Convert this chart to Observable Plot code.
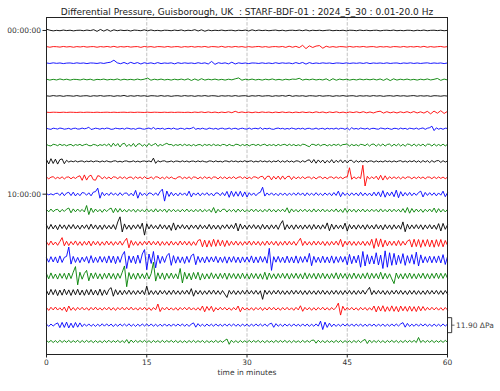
<!DOCTYPE html>
<html><head><meta charset="utf-8">
<script src="https://cdn.jsdelivr.net/npm/d3@7"></script>
<script src="https://cdn.jsdelivr.net/npm/@observablehq/plot@0.6"></script>
<style>body{margin:0;background:#fff} svg{font-family:"DejaVu Sans",sans-serif}</style>
</head><body><div id="chart"></div>
<script>
const titleText = "Differential Pressure, Guisborough, UK  : STARF-BDF-01 : 2024_5_30 : 0.01-20.0 Hz";
const xLabel = "time in minutes";
const minuteTicks = [0, 15, 30, 45, 60];
const gridMinutes = [15, 30, 45];
const hourLineIndex = [0, 10];
const hourLabels = ["00:00:00", "10:00:00"];
const traceColors = ["#000000", "#ff0000", "#0000ff", "#008000"];
const scaleBarPa = 11.90;
const scaleBarLine = 18;
const scaleBarLabel = "11.90 ΔPa";

// deviations in Pa, one row per hour (quiet hours every 30 s, busier hours every 20 s)
const L0 = [1.0,0.2,-0.3,0.1,-0.2,0.3,-0.1,0.2,-0.3,0.1,0.2,-0.2,0.3,-0.1,0.6,-0.7,0.8,-0.5,0.7,-0.6,0.5,-0.2,0.3,-0.1,0.2,-0.4,0.3,0.1,-0.2,0.5,-0.3,0.4,-0.2,0.1,-0.3,0.2,0.1,-0.2,0.3,-0.1,0.4,-0.3,0.2,-0.1,0.6,-0.4,0.5,-0.6,0.3,-0.2,0.2,-0.1,0.3,-0.2,0.1,0.2,-0.3,0.2,-0.1,0.3,-0.4,0.5,-0.2,0.3,-0.1,0.2,-0.2,0.1,0.3,-0.2,0.2,-0.3,0.1,0.2,-0.1,0.3,-0.2,0.4,-0.3,0.2,-0.1,0.2,-0.2,0.1,0.3,-0.2,0.1,-0.1,0.2,-0.3,0.2,0.1,-0.2,0.3,-0.1,0.2,-0.2,0.1,0.2,-0.3,0.1,0.2,-0.1,0.3,-0.2,0.1,-0.2,0.2,0.1,-0.3,0.2,-0.1,0.3,-0.2,0.1,0.2,-0.1,0.2,-0.2,0.1];
const L1 = [0.2,-0.3,0.2,0.1,-0.2,0.3,-0.1,0.2,-0.3,0.2,-0.1,0.3,-0.2,0.1,0.2,-0.3,0.2,-0.1,0.3,-0.2,0.4,-0.3,0.2,-0.1,0.3,-0.2,0.1,0.2,-0.4,0.3,-0.1,0.2,-0.3,0.2,0.1,-0.2,0.3,-0.2,0.1,0.2,-0.3,0.2,-0.1,0.3,-0.2,0.2,-0.1,0.3,-0.3,0.2,0.1,-0.2,0.4,-0.3,0.2,-0.2,0.3,-0.1,0.2,-0.3,0.2,-0.2,0.1,0.3,-0.2,0.2,-0.3,0.1,0.2,-0.1,0.3,-0.4,0.5,-0.3,0.4,-0.6,1.2,-1.4,0.8,-0.5,0.6,1.0,-1.1,0.5,-0.3,0.2,-0.3,0.2,0.1,-0.2,0.3,-0.2,0.2,-0.1,0.3,-0.2,0.1,0.2,-0.3,0.2,-0.1,0.2,-0.3,0.2,0.1,-0.2,0.3,-0.2,0.2,-0.1,0.3,-0.2,0.4,-0.3,0.2,-0.2,0.1,0.3,-0.2,0.2];
const L2 = [0.2,-0.2,0.3,-0.1,0.2,-0.3,0.1,0.2,-0.2,0.3,-0.1,0.2,-0.3,0.2,0.1,-0.2,0.3,-0.2,0.4,0.8,2.4,0.3,-0.4,0.6,-0.5,0.7,-0.3,0.5,-0.6,0.4,-0.2,0.3,-0.4,0.5,-0.3,0.2,-0.1,0.3,-0.5,0.4,-0.2,0.3,-0.1,0.2,-0.3,0.4,-0.2,0.3,-0.6,1.4,-0.9,0.4,-0.2,0.3,-0.5,0.8,-0.6,0.3,-0.2,0.2,-0.3,0.2,0.1,-0.2,0.3,-0.2,0.2,-0.3,0.4,-0.2,0.3,-0.1,0.2,-0.4,0.5,-0.3,0.6,-0.7,0.5,-0.3,0.2,-0.2,0.3,-0.1,0.2,-0.3,0.2,0.1,-0.2,0.3,-0.2,0.2,-0.1,0.3,-0.2,0.4,-0.3,0.2,-0.1,0.2,-0.2,0.3,-0.2,0.1,0.2,-0.3,0.2,-0.1,0.3,-0.2,0.2,-0.2,0.1,0.3,-0.2,0.2,-0.1,0.2,-0.3,0.2];
const L3 = [0.3,-0.4,0.2,-0.3,0.5,-0.2,0.3,-0.4,0.2,0.1,-0.3,0.4,-0.2,0.3,-0.5,0.2,-0.1,0.4,-0.3,0.2,-0.2,0.5,-0.4,0.3,-0.2,0.2,-0.3,0.4,-0.2,0.3,1.2,-0.5,0.3,-0.2,0.4,-0.3,0.2,-0.4,0.3,-0.2,0.4,-0.3,0.6,-0.7,0.5,-0.6,0.7,-0.4,0.3,-0.2,0.4,-0.3,0.2,-0.4,0.3,-0.2,0.6,1.3,-0.5,0.3,-0.2,0.4,-0.3,0.2,-0.4,0.3,-0.2,0.5,-0.3,0.2,-0.4,0.3,-0.2,0.4,0.2,1.0,-0.4,0.3,-0.2,0.4,-0.3,0.2,-0.3,0.6,-0.8,0.7,-0.5,0.4,-0.2,0.3,-0.4,0.2,-0.3,0.4,-0.2,0.3,-0.2,0.4,-0.3,0.5,-0.6,0.7,-0.8,0.6,-0.4,0.3,-0.2,0.4,-0.3,0.2,-0.4,0.3,-0.2,0.5,-0.3,0.2,0.9,-0.6,0.4,-0.3];
const L4 = [0.1,-0.2,0.3,-0.1,0.2,-0.3,0.2,0.1,-0.2,0.3,-0.2,0.1,0.2,-0.3,0.2,-0.1,0.3,-0.2,0.1,0.2,-0.3,0.2,-0.1,0.4,-0.3,0.2,-0.2,0.3,-0.1,0.2,-0.3,0.2,0.1,-0.2,0.3,-0.2,0.2,-0.3,0.1,0.2,-0.2,0.3,-0.1,0.2,-0.3,0.2,-0.1,0.3,-0.2,0.2,0.1,-0.3,0.2,-0.1,0.2,-0.2,0.3,-0.2,0.1,0.2,-0.3,0.2,-0.1,0.3,-0.2,0.1,0.2,-0.3,0.2,-0.1,0.3,-0.2,0.5,-0.3,0.2,-0.1,0.2,-0.3,0.2,0.1,-0.2,0.3,-0.2,0.1,0.2,-0.3,0.2,-0.1,0.3,-0.2,0.1,0.2,-0.3,0.2,-0.1,0.2,-0.2,0.3,-0.1,0.2,-0.3,0.1,0.2,-0.2,0.3,-0.1,0.2,-0.2,0.1,0.3,-0.2,0.2,-0.1,0.2,-0.3,0.2,0.1,-0.2,0.2,-0.1];
const L5 = [0.1,-0.1,0.1,0.0,-0.1,0.1,-0.1,0.1,0.0,-0.1,0.1,-0.1,0.1,0.0,-0.1,0.1,-0.1,0.0,0.1,-0.1,0.1,-0.1,0.0,0.1,-0.1,0.1,-0.1,0.1,0.0,-0.1,0.1,-0.1,0.1,0.0,-0.1,0.1,-0.1,0.1,-0.1,0.1,0.0,-0.1,0.1,-0.2,0.2,-0.1,0.3,-0.2,0.3,-0.2,0.2,-0.3,0.2,-0.2,0.4,-0.3,0.8,-0.2,0.3,-0.2,0.2,-0.3,0.2,-0.2,0.3,-0.1,0.2,-0.3,0.2,-0.2,0.3,-0.2,0.2,-0.3,0.2,-0.2,0.3,-0.2,0.2,-0.3,0.4,-0.2,0.3,-0.4,0.3,-0.2,0.4,-0.3,0.2,-0.4,0.3,-0.2,0.4,-0.3,0.5,-0.4,0.3,-0.5,0.4,0.9,-0.6,0.5,-0.4,0.3,-0.5,0.4,-0.3,0.5,-0.4,0.6,-0.5,0.4,-0.6,0.8,-1.2,1.0,-0.7,1.3,-0.9,0.8];
const L6 = [0.3,-0.2,-0.5,0.4,0.1,-0.3,0.5,0.2,-0.4,-0.1,0.3,-0.5,0.2,0.4,-0.3,-0.2,0.5,-0.1,0.3,1.2,-0.6,-0.2,0.4,0.1,-0.4,0.3,-0.2,0.5,0.2,-0.5,-0.3,0.4,0.1,-0.2,0.3,-0.4,0.5,0.2,-0.3,0.1,-0.5,0.3,0.4,-0.2,-0.4,0.2,0.5,-0.3,1.0,-0.4,0.3,-0.2,0.4,-0.5,0.1,0.3,-0.3,0.5,-0.2,-0.4,0.3,0.2,-0.5,0.4,-0.1,0.3,1.1,-0.5,0.2,-0.3,0.4,-0.2,-0.4,0.5,0.1,-0.3,0.3,-0.5,0.2,0.4,-0.3,-0.1,0.5,-0.4,0.2,0.3,-0.5,0.1,0.4,-0.2,-0.3,0.5,-0.4,0.2,0.3,-0.2,0.8,-0.5,0.3,-0.2,0.4,-0.3,-0.5,0.2,0.5,-0.1,0.3,-0.4,0.2,-0.3,0.5,0.1,-0.4,0.3,-0.2,0.4,-0.5,0.2,0.3,-0.3,-0.2,0.5,-0.4,0.1,0.3,-0.5,0.4,-0.2,0.2,-0.3,0.5,-0.4,0.3,0.2,-0.5,0.6,-0.9,0.8,-0.3,0.2,-0.4,0.5,0.1,-0.3,0.4,-0.5,0.2,0.3,-0.2,-0.4,0.5,0.2,-0.3,0.4,-0.1,-0.5,0.3,0.2,-0.4,0.5,-0.2,0.3,-0.5,0.4,0.1,-0.3,0.5,-0.4,0.2,0.6,-0.5,0.4,0.8,2.0,-1.5,0.7,-0.4,0.3,-0.5,0.4,0.2];
const L7 = [0.5,-0.4,-0.7,0.6,0.3,-0.5,0.7,-0.3,0.4,-0.6,0.2,0.5,-0.7,0.4,-0.2,0.6,-0.5,0.3,0.7,-0.4,-0.6,0.5,0.2,-0.7,0.4,-0.3,0.6,-0.5,1.0,-1.3,1.5,-0.8,1.2,-1.5,0.9,1.4,-1.2,0.6,-1.0,1.3,-1.4,0.8,1.1,-0.9,0.5,-1.1,1.3,-0.6,0.4,1.3,-1.0,0.5,-0.4,0.6,1.4,0.3,0.5,-0.6,0.4,-0.3,0.6,-0.5,0.7,-0.4,0.4,-0.7,0.5,-0.6,0.3,0.4,-0.7,0.6,-0.3,0.5,-0.5,0.7,-0.4,0.3,-0.6,0.5,0.4,-0.7,0.6,-0.3,-0.5,0.7,0.4,-0.6,0.5,-0.4,0.6,-0.7,0.3,0.5,-0.4,0.6,-0.5,0.3,0.7,-0.6,0.4,-0.3,0.5,-0.7,0.6,-0.4,0.3,0.6,-0.5,0.7,-0.4,0.5,-0.6,0.3,-0.5,0.7,0.4,-0.6,-1.3,0.6,0.5,-0.4,0.7,-0.6,0.3,0.5,-0.7,0.4,-0.5,0.6,-0.3,0.7,-0.6,0.4,0.5,1.0,-0.9,0.6,-0.5,0.4,-0.7,0.6,0.3,-0.5,0.9,-0.8,0.6,0.8,-0.9,0.7,-0.6,0.9,-0.8,0.5,0.8,-0.9,0.7,-0.6,0.9,-0.8,0.6,-0.9,0.8,0.5,-0.7,0.9,-0.8,0.6,-0.5,0.8,-0.9,0.7,0.6,-0.8,0.9,-0.7,0.5,-0.6,0.8,-0.7,0.6];
const L8 = [1.5,-2.0,2.2,-1.6,1.8,-2.1,1.4,2.0,-1.8,0.9,-0.5,0.4,-0.3,0.5,-0.4,0.2,0.4,-0.5,0.3,-0.2,0.5,-0.4,0.3,0.2,-0.5,0.4,-0.3,0.5,-0.2,-0.4,0.3,0.5,-0.4,0.2,-0.5,0.3,0.4,-0.3,-0.2,0.5,-0.4,0.3,-0.5,0.2,0.4,-0.3,0.5,-0.4,2.6,-1.5,0.6,-0.4,0.3,0.5,-0.4,-0.2,0.4,-0.5,0.3,0.2,-0.4,0.5,-0.3,0.4,-0.5,0.2,0.3,-0.4,0.5,-0.3,0.4,-0.2,-0.5,0.4,0.3,-0.4,0.5,-0.3,0.2,-0.5,0.4,0.3,-0.4,0.5,-0.2,0.4,-0.5,0.3,-0.3,0.6,-0.4,0.2,0.5,-0.5,0.3,-0.4,0.6,-0.3,0.4,-0.5,0.5,-0.6,0.4,-0.3,0.8,-0.7,0.5,-0.6,0.7,-0.5,0.4,-0.6,0.5,0.3,-0.7,0.6,-0.5,0.8,1.3,-1.1,1.5,-1.4,1.2,-0.9,1.1,-1.3,0.8,-1.0,1.4,-1.2,0.9,-0.7,1.3,-1.1,1.0,-1.2,0.8,0.9,-1.0,0.7,-0.6,0.5,-0.4,0.6,-0.5,0.3,0.4,-0.6,0.5,-0.4,0.3,-0.5,0.6,-0.3,0.4,-0.5,0.5,-0.4,0.3,0.6,-0.5,0.4,-0.6,0.5,-0.3,0.7,-0.6,0.5,-0.8,0.7,-0.5,0.6,-0.9,0.7,-0.6,0.5,0.7,-0.8,0.6,-0.5,0.4];
const L9 = [0.6,-0.8,0.5,0.9,-0.7,0.4,-0.6,0.8,-0.9,0.5,0.7,-0.8,0.6,-0.5,0.9,1.6,-2.0,2.3,-1.8,1.2,2.1,-1.5,-1.9,1.7,1.2,-0.9,0.8,-0.7,0.6,-0.9,0.8,0.5,-0.7,0.9,-0.6,0.7,-0.8,0.4,0.6,-0.9,0.8,-0.5,0.7,-0.8,0.9,-0.6,-0.4,0.7,-0.9,0.8,0.6,-0.7,0.5,-0.8,0.9,-0.6,0.7,-0.5,-0.8,0.6,0.9,-0.7,0.5,-0.6,0.8,-0.9,0.7,0.4,-0.8,0.6,-0.7,0.9,-0.5,0.6,-0.8,0.7,0.5,-0.9,0.8,-0.6,0.7,-0.8,0.6,-0.5,0.9,-0.7,0.4,0.8,-0.6,0.7,-0.9,0.5,-0.7,0.8,0.6,-0.5,0.9,1.2,-1.4,1.1,1.3,-1.6,1.2,-1.0,1.4,-1.3,1.5,-1.1,0.9,1.3,-1.4,1.0,-0.8,0.7,-0.6,0.9,-0.7,0.5,0.6,-0.8,0.7,-0.9,0.5,0.8,-0.7,0.6,-0.8,0.5,0.7,-0.6,0.8,-0.5,0.6,-0.7,0.5,0.8,8.0,-1.2,0.8,-0.7,0.6,-0.5,10.0,-6.5,1.2,-0.9,0.8,-0.7,1.3,-1.5,2.0,-1.8,1.6,-1.3,0.9,-0.7,0.8,-0.6,0.7,-0.9,0.8,-0.6,0.7,0.5,-0.8,0.7,-0.6,0.8,-0.5,0.7,-0.8,0.6,0.5,-0.7,0.8,-0.6,0.7,-0.5,0.6,-0.7,0.5];
const L10 = [0.4,-0.5,0.3,-0.6,0.5,0.8,-1.0,1.3,-1.2,0.9,1.5,-1.1,1.6,-1.4,0.8,-1.2,1.3,0.9,-0.8,1.1,-1.3,1.6,2.0,4.8,-3.2,1.5,-1.2,0.9,-1.0,1.3,-0.7,0.8,-1.1,1.2,-0.9,0.7,1.0,-1.2,0.8,-1.3,3.0,-3.2,1.4,-1.0,0.8,-1.2,1.0,0.7,-0.9,1.1,-1.0,2.0,4.0,-5.5,2.5,-1.8,1.5,-1.2,0.9,-1.3,1.1,-0.8,1.0,-1.2,2.4,-2.2,1.0,-0.8,1.1,-1.3,0.9,-0.7,1.2,-1.0,0.8,-1.4,1.0,0.9,-1.1,1.3,-1.2,2.2,-2.5,2.4,-1.8,2.0,-1.6,2.3,-2.0,1.8,-2.2,1.2,-0.9,1.0,-1.2,0.8,1.5,5.5,-1.5,1.0,-0.8,1.1,-0.9,0.7,-1.2,1.0,-0.8,0.9,-1.1,0.8,-0.7,1.0,-0.9,1.2,-0.8,1.0,-1.3,1.1,-0.9,0.8,-1.0,1.2,-0.9,0.7,-1.1,1.0,-0.8,0.9,-1.2,1.3,-1.0,2.4,-2.0,1.4,-1.0,0.8,-1.2,1.1,-0.9,1.0,-1.3,1.5,-1.2,1.0,-1.1,0.9,-1.4,1.6,-1.3,1.8,-2.0,2.8,-2.4,1.6,-1.3,1.8,-2.0,3.2,-2.8,2.0,-1.5,1.3,-1.1,1.4,-1.2,1.0,-0.9,1.3,2.4,-2.2,1.4,-1.0,1.2,-0.9,1.1,-1.3,1.0,-0.8,2.4,-2.0,1.1];
const L11 = [0.8,-1.0,1.2,-0.9,0.6,1.0,-1.2,0.9,-0.7,1.1,2.0,-1.8,1.3,-1.0,1.2,-0.8,0.9,-1.1,4.0,-3.2,2.0,-1.5,1.2,-1.0,0.9,-1.4,1.1,-0.8,1.0,2.0,-1.7,1.8,-1.3,1.6,-1.1,0.9,-1.2,1.0,-0.8,1.1,-1.3,1.0,-0.9,0.8,-1.1,1.3,-1.0,0.9,-1.2,1.4,-1.1,1.0,-0.8,1.2,-1.4,1.1,-0.9,1.0,-1.0,0.8,-1.1,1.0,-0.9,1.2,-1.0,0.8,-1.1,1.0,-0.9,1.1,-1.2,0.9,-0.8,1.0,-1.3,2.4,-2.0,1.0,-1.1,0.9,1.1,-1.2,0.9,-0.8,1.0,-1.3,1.2,-0.9,1.0,-1.1,0.8,-1.0,1.2,-0.9,1.1,-1.0,0.8,-1.2,1.0,-0.9,1.3,-1.0,0.9,-1.2,1.0,-0.8,1.1,-1.0,2.2,-2.0,1.3,-1.0,0.9,-1.2,1.0,-0.8,1.1,-1.0,0.9,-1.2,1.3,-1.1,1.0,-0.9,1.2,-1.0,0.8,-1.1,1.0,-0.9,1.3,-1.2,1.0,-1.5,1.8,-1.4,1.2,-1.0,1.1,-1.3,1.0,-0.9,1.2,-1.1,0.9,-1.0,1.1,-0.8,1.0,-1.2,1.3,-1.0,0.9,-1.1,1.2,-1.0,1.1,-0.9,1.0,-1.2,1.5,-1.6,2.4,-2.1,1.6,-1.3,1.2,-1.0,1.1,-1.4,1.0,-0.9,1.2,-1.0,2.0,-1.7,1.5,-1.2,1.0,-1.1,0.9];
const L12 = [1.5,-1.8,2.0,-1.6,1.4,-2.2,1.8,-1.3,1.6,-2.0,1.7,-1.4,1.9,-1.6,1.3,-1.8,1.5,-1.2,1.7,-1.9,2.2,-1.5,1.6,-1.8,1.4,-2.0,1.7,-1.5,1.3,-1.6,1.8,-2.0,4.0,8.0,-4.0,2.4,-1.8,1.5,-2.0,1.6,-1.4,1.8,-1.5,3.0,-6.5,2.5,-1.6,1.8,-1.4,1.2,-1.7,1.9,-1.5,1.6,-1.8,1.4,-2.8,3.2,-2.5,1.6,-1.3,1.8,-1.5,1.4,-1.9,1.6,-1.2,1.5,-1.8,1.7,-1.4,1.3,-1.6,2.0,-1.8,1.5,-1.7,1.4,-1.9,1.6,-1.2,1.8,-1.5,1.7,-1.4,3.0,-3.2,2.4,-1.7,1.5,-1.8,1.6,-1.3,1.8,-1.5,1.4,-1.9,2.0,-1.6,1.5,-1.8,1.7,-1.4,1.6,-1.9,2.2,5.0,-2.2,1.8,-1.5,1.6,-1.9,1.7,-1.4,1.5,-1.8,1.6,-1.3,1.7,-2.0,1.9,-1.6,1.5,-1.8,1.7,-1.4,3.2,-3.0,2.2,-1.8,1.6,-1.4,1.5,-1.7,3.0,-3.3,1.9,-1.6,1.5,-1.8,1.7,-1.4,1.6,-1.9,1.8,-1.5,1.4,-1.7,1.9,-1.6,1.5,-2.2,1.8,-1.4,1.6,-1.9,1.7,-1.5,1.4,-1.8,4.0,-3.8,2.1,-1.7,1.6,-1.4,1.8,-1.5,1.7,-2.0,1.6,-1.4,1.8,-1.6,1.5,-1.9,2.6,-3.2,2.8,-1.9,1.6];
const L13 = [1.2,-1.5,1.8,-1.3,1.0,-1.6,1.4,4.5,-2.0,1.6,-1.8,1.4,-1.2,1.9,-1.6,1.3,-1.7,1.5,-1.4,1.8,-2.0,1.6,-1.3,1.5,-1.7,1.2,-1.5,1.8,-1.3,1.4,-1.6,1.3,-1.2,1.7,-1.5,1.6,4.0,-3.6,2.2,-1.6,1.4,-1.7,1.3,-1.5,1.6,-1.2,1.8,-1.4,1.5,-1.3,1.6,-1.8,1.4,-1.5,1.3,-1.6,1.7,-1.4,1.2,-1.5,1.8,-1.3,1.6,-1.4,1.5,-1.7,1.3,-1.6,2.2,3.0,-2.8,2.5,-3.0,2.2,-2.6,3.2,-2.4,2.8,-2.0,2.4,-2.6,2.2,-1.8,1.6,-1.4,1.7,-1.5,1.3,-1.6,1.4,-1.2,1.8,-1.5,1.6,-1.3,1.5,-1.7,1.4,-1.6,1.8,-1.3,1.5,-1.4,1.6,-1.8,1.3,-1.5,1.7,-1.4,1.6,-1.3,1.5,-1.6,1.4,4.0,-1.8,1.6,-1.4,1.3,-1.5,1.7,-1.4,1.6,-1.3,1.5,-1.8,1.4,-1.6,1.5,-1.3,1.7,-1.5,3.2,-2.8,1.7,-1.5,1.8,-1.6,1.4,-1.7,1.5,-1.4,1.6,-1.8,1.5,-1.6,3.2,-4.0,3.8,-2.6,3.5,-3.0,2.4,-2.0,1.8,-1.6,1.7,-1.9,2.2,-1.8,1.6,-1.4,1.8,2.8,-3.0,3.2,-2.6,3.0,-3.2,2.8,-2.4,3.0,-2.8,2.6,-3.1,2.9,-2.5,3.0,-2.8,2.2,-1.6];
const L14 = [1.5,-2.0,2.4,-1.8,2.2,-2.6,3.0,-2.2,1.8,2.6,10.0,-3.5,2.6,-2.2,1.8,-2.4,2.0,-1.6,2.5,-2.8,3.2,-2.4,1.9,-2.2,2.6,-2.0,2.4,-2.7,3.0,-2.4,2.8,-3.2,2.6,-2.2,3.4,6.5,-7.0,3.0,-2.4,2.8,-3.2,3.6,-2.8,4.5,8.0,-8.0,4.5,-3.0,6.5,-6.5,3.5,-3.0,2.6,-2.2,3.0,5.0,-4.5,3.2,-2.8,2.4,-2.4,2.2,-3.0,2.6,-2.2,3.2,4.5,-4.0,2.6,-2.2,2.0,-2.6,2.4,-2.0,2.2,-1.8,2.6,-2.4,2.0,-2.2,2.4,-2.8,2.2,-2.0,2.5,-2.3,2.0,-2.6,2.2,-2.0,2.2,-2.0,3.0,-2.6,2.2,-2.4,2.6,-2.0,2.4,-2.8,9.0,-8.5,2.4,-2.0,2.6,-2.2,2.0,-2.5,2.8,-2.4,2.2,-2.6,3.0,-2.8,2.4,-2.2,2.6,-2.0,5.0,-4.8,2.6,-2.2,2.0,-2.5,2.8,-2.4,2.2,-2.6,3.0,-2.8,2.4,-2.2,2.6,-2.0,2.5,-4.0,4.2,-3.2,2.8,-2.5,3.5,-6.0,6.5,-5.0,4.0,-3.5,3.0,-3.4,5.5,-4.2,3.6,-7.0,7.0,-6.0,5.5,-4.5,5.0,-4.0,3.5,-3.0,4.8,-4.5,3.2,-2.8,4.0,-3.6,6.0,-5.0,3.8,-2.6,2.4,-2.2,2.8,-2.5,2.6,-2.4,3.0,-2.6,4.0,-3.8,2.4];
const L15 = [1.8,-2.2,2.5,-2.0,1.6,-2.4,2.0,-1.8,2.2,-2.6,2.4,-2.0,3.0,7.5,-7.0,3.0,-2.5,2.0,4.5,-3.8,2.4,-2.0,2.6,-2.2,1.8,-2.5,2.2,-1.9,2.4,-2.1,2.0,-2.6,2.2,-1.8,3.0,8.0,-8.5,2.8,-2.4,2.0,-2.6,2.4,-2.0,1.8,-2.2,2.5,-2.3,2.0,11.0,-4.0,2.6,-2.2,2.5,-2.8,2.2,-1.9,2.4,-2.0,1.8,-2.2,6.0,-5.5,3.0,-2.4,2.2,-3.0,2.8,-2.2,3.0,-3.2,2.0,-2.4,1.8,-2.2,2.6,-2.0,1.8,-2.3,2.1,-1.9,2.4,-2.6,2.2,-1.8,2.0,-2.2,1.9,-2.1,2.3,-2.0,1.8,-2.4,2.2,-1.9,2.0,-2.2,1.8,-2.5,3.0,-2.8,2.4,-2.0,1.8,-2.2,2.0,-1.7,2.2,-1.9,2.1,-2.4,2.0,-1.8,2.2,-2.0,1.8,-2.3,2.6,-2.2,2.0,-1.8,2.1,-2.4,2.2,-1.9,2.3,-2.0,1.8,-2.2,2.0,-1.9,2.6,-2.4,2.2,-1.8,2.0,-2.2,1.9,-2.1,2.4,-2.0,1.8,-2.2,2.0,-1.9,2.6,-2.4,2.2,-1.8,2.0,-2.2,3.0,-2.4,2.2,-2.0,1.8,-2.3,-6.0,2.4,-2.0,1.8,-2.3,2.1,-1.9,2.4,-2.0,1.8,-2.2,2.0,-1.7,2.3,-2.1,1.9,-2.2,2.0,-1.8,2.4,-2.0,2.2,-1.9,2.1,-1.8];
const L16 = [1.6,-2.0,2.4,-1.8,2.2,-2.5,1.9,-2.2,2.6,-1.8,2.0,-2.4,2.2,-1.9,2.5,-2.1,1.8,-2.3,2.2,-1.9,2.4,-2.0,1.8,-2.2,2.6,-2.4,2.0,-1.9,2.3,3.8,-3.0,2.2,-1.8,1.6,-1.9,1.7,-1.5,1.8,-1.6,1.4,-1.7,1.5,-1.3,1.6,-1.8,5.0,-1.8,1.5,-1.6,1.4,-1.8,1.6,-1.3,1.5,-1.7,1.4,-1.6,1.8,-1.5,1.3,-1.6,1.5,-1.4,1.7,-1.5,3.0,-3.0,1.6,-1.4,1.5,-1.7,1.3,-1.5,1.6,-1.4,1.8,-1.5,1.4,-1.6,1.5,-1.3,-4.0,1.6,-1.4,1.5,-1.7,1.3,-1.5,1.6,-1.4,1.8,-1.3,1.5,-1.4,1.6,-1.5,1.3,-5.5,1.8,-1.5,1.4,-1.6,1.5,-1.3,1.7,-1.5,1.4,-1.6,1.3,-1.5,1.7,-1.4,1.6,-1.3,1.5,-1.7,1.4,-1.6,1.5,-1.4,1.3,-1.6,1.5,-1.4,1.7,-1.5,1.3,-1.6,1.5,-1.4,1.6,-1.5,1.4,-1.7,1.5,-1.3,1.6,-1.5,1.4,-1.6,1.5,-1.3,1.7,-1.4,1.6,4.0,-1.8,1.5,-1.4,1.6,-1.3,1.5,-1.7,1.4,-1.6,1.5,-1.3,1.7,-1.4,1.6,-1.5,1.3,-1.7,1.6,-1.4,1.5,-1.6,1.4,-1.5,1.3,-1.6,1.7,-1.4,1.5,-1.3,1.6,-1.5,1.4,-1.6,1.5,-1.3];
const L17 = [1.0,-1.3,1.2,-0.9,1.4,-1.0,0.8,-1.2,1.4,-2.4,2.2,-1.2,1.0,-1.3,1.1,-0.8,1.2,-1.0,0.9,-1.2,1.1,-0.9,1.3,-1.0,0.8,-1.1,1.0,-0.9,1.2,-1.1,0.9,-1.3,1.0,-0.8,1.2,-1.0,1.1,-0.9,1.3,-1.0,0.8,-1.1,1.0,-0.9,1.2,-1.1,0.9,-1.3,1.0,-0.8,3.8,-2.2,1.0,-0.9,1.2,-1.0,0.8,-1.1,0.9,-1.2,1.0,-0.8,1.1,-0.9,1.2,-1.0,0.8,-1.1,0.9,-1.2,2.2,-2.4,1.8,-1.2,2.0,-2.3,0.9,-1.0,1.2,-0.9,1.1,-1.0,0.8,-1.2,1.0,-0.9,2.2,-2.4,1.2,-1.0,0.8,-1.1,0.9,-1.2,1.0,-0.8,1.1,-1.3,0.9,-1.0,1.2,-0.9,1.1,-1.0,0.8,-1.2,1.0,-0.9,1.1,-1.0,0.8,-1.2,1.1,-0.9,2.4,-2.0,1.1,-0.9,1.0,-1.2,0.9,-1.1,1.0,-0.8,1.2,-1.0,0.9,-1.1,1.0,-0.8,1.2,4.5,-5.0,2.0,-1.2,1.0,-0.9,1.1,-1.0,0.8,-1.2,1.1,-0.9,1.0,-1.2,0.9,-1.1,2.2,-2.5,2.0,-1.8,2.4,-2.2,1.6,-1.9,2.3,-2.0,1.8,-2.4,2.2,-1.6,1.8,-2.0,2.1,-1.9,1.7,-2.2,2.0,-1.6,1.8,-1.3,1.1,-1.0,1.2,-0.9,1.0,-1.1,0.9,-1.2,1.0,-0.9];
const L18 = [0.8,-1.0,0.9,-0.7,0.8,1.8,-2.0,2.2,-1.8,2.4,-2.2,1.6,-2.0,2.1,-1.6,1.8,-1.2,0.9,-0.8,1.0,-0.9,0.7,-1.0,0.8,-0.9,1.1,-0.8,1.0,-0.7,0.9,-1.1,0.8,-0.9,1.0,-0.7,0.9,-0.8,1.1,-0.9,0.7,-1.0,0.8,-0.9,1.0,-0.7,0.9,-0.8,1.0,-0.9,0.7,-1.0,0.8,-0.9,1.0,-0.8,0.7,-0.9,1.0,-0.8,0.9,-0.7,1.0,-0.9,0.8,-1.0,0.9,1.8,-1.6,1.2,-0.9,0.8,-1.0,0.9,-0.7,0.8,-0.9,1.0,-0.8,0.7,-0.9,1.0,-0.8,0.9,-0.7,1.0,-0.9,0.8,-1.0,0.9,-0.7,0.8,-1.0,0.9,-0.8,1.0,-0.7,0.9,-0.8,1.0,-0.9,0.8,1.6,-1.7,1.2,-0.9,0.8,-1.0,0.9,-0.7,0.8,-0.9,1.0,-0.8,0.7,-0.9,1.0,-0.8,0.9,-1.0,0.8,-0.9,1.0,-0.8,3.2,-3.5,2.4,-1.8,1.6,-1.2,0.9,-1.0,0.8,-0.9,1.0,-0.7,0.9,-0.8,1.0,-0.9,0.8,-0.7,0.9,-1.0,0.8,-0.9,1.0,-0.8,0.9,-1.0,0.8,-0.7,0.9,-1.0,0.8,-0.9,1.0,-0.8,0.9,-0.7,1.0,2.0,-1.6,1.4,-1.0,0.8,-0.9,1.0,-0.8,0.9,-0.7,1.0,-0.9,0.8,-1.0,0.9,-0.8,0.7,-0.9,1.0,-0.8,0.9];
const L19 = [0.8,-0.6,0.9,-0.8,0.7,-0.9,1.0,-0.7,0.8,-0.6,0.9,-0.8,0.7,-0.6,1.0,-0.9,0.8,-0.7,0.9,-0.6,0.8,-0.9,0.7,-0.8,0.6,-0.9,0.8,-0.7,1.0,-0.8,0.7,-0.6,0.9,-0.8,0.7,-0.9,1.5,-1.4,1.2,-0.8,0.9,-0.7,0.8,-0.6,0.9,-0.8,0.7,-0.9,0.8,-0.6,0.7,-0.8,0.9,-0.7,0.8,-0.6,0.9,-0.7,0.8,-0.9,0.7,-0.8,0.6,-0.9,0.8,-0.7,0.9,-0.8,0.7,-0.6,0.8,-0.9,0.7,-0.8,0.6,-0.7,0.9,-0.8,0.7,-0.6,0.8,2.0,-2.2,1.0,-0.8,0.7,-0.9,0.8,-0.7,0.6,-0.8,0.9,-0.7,0.8,-0.6,0.9,-0.8,0.7,-0.9,0.8,-0.7,0.6,-0.8,0.9,-0.7,0.8,-0.6,0.9,-0.8,0.7,-0.9,0.8,-0.7,0.6,-0.8,0.9,-0.7,0.8,-0.6,0.9,1.2,-1.3,1.0,-0.8,0.7,-0.9,0.8,-0.7,0.6,-0.8,0.9,-0.7,0.8,-0.9,0.7,-0.8,0.6,-0.9,0.8,-0.7,0.9,-0.8,0.7,1.7,-1.6,1.2,-0.9,0.8,-0.7,0.9,-0.8,0.7,-0.9,0.8,-0.6,0.9,-0.7,0.8,-0.9,0.7,-0.8,0.9,-0.7,0.8,-0.6,0.9,-0.8,3.2,-0.8,0.9,-0.7,0.8,-0.6,0.9,-0.8,0.7,-0.6,0.8,-0.7,0.9,-0.6];

const traces = [L0,L1,L2,L3,L4,L5,L6,L7,L8,L9,L10,L11,L12,L13,L14,L15,L16,L17,L18,L19];

// layout: vertical offset between hourly traces, in Pa
const spacing = 13.0;
const nLines = traces.length;
const topPad = 10.3;

const rows = traces.flatMap((vals, i) =>
  vals.map((v, k) => ({t: k * 60 / (vals.length - 1), p: v - i * spacing, line: i})));

const base = -scaleBarLine * spacing;
const half = scaleBarPa / 2;
const pxMin = 60 / 401;
const bracket = [
  {t: 60 + 0.6 * pxMin, p: base + half},
  {t: 60 + 4.2 * pxMin, p: base + half},
  {t: 60 + 4.2 * pxMin, p: base - half},
  {t: 60 + 0.6 * pxMin, p: base - half}
];

const ink = "#333";
const chart = Plot.plot({
  width: 500, height: 391,
  marginLeft: 46, marginRight: 53, marginTop: 17, marginBottom: 37,
  style: {fontFamily: "DejaVu Sans, sans-serif", fontSize: "7.5px", color: ink, background: "#fff"},
  x: {domain: [0, 60]},
  y: {domain: [-(nLines - 1) * spacing - topPad, topPad]},
  marks: [
    Plot.ruleX(gridMinutes, {stroke: "#b3b3b3", strokeWidth: 0.8, strokeDasharray: "3.5,1.6"}),
    ...traces.map((_, i) => Plot.line(rows.filter(r => r.line === i),
      {x: "t", y: "p", stroke: traceColors[i % 4], strokeWidth: 0.9})),
    Plot.frame({stroke: "#222", strokeWidth: 1}),
    Plot.axisX({ticks: minuteTicks, tickSize: 3.5, tickPadding: 2, label: null, stroke: "#222"}),
    Plot.axisY({ticks: hourLineIndex.map(h => -h * spacing),
      tickFormat: d => hourLabels[hourLineIndex.indexOf(Math.round(-d / spacing))],
      tickSize: 3.5, tickPadding: 2, label: null, stroke: "#222"}),
    Plot.line(bracket, {x: "t", y: "p", stroke: "#222", strokeWidth: 0.9}),
    Plot.link([base], {x1: 60 + 4.2 * pxMin, x2: 60 + 7 * pxMin, y1: d => d, y2: d => d, stroke: "#444", strokeWidth: 0.8}),
    Plot.text([scaleBarLabel], {x: 60 + 8.5 * pxMin, y: base, text: d => d, textAnchor: "start", fontSize: 7.5, fill: "#444"}),
    Plot.text([titleText], {frameAnchor: "top", dy: -9, text: d => d, fontSize: 9, fill: "#222"}),
    Plot.text([xLabel], {frameAnchor: "bottom", dy: 20, text: d => d, fontSize: 7.5, fill: ink})
  ]
});
document.getElementById("chart").appendChild(chart);
</script>
</body></html>
